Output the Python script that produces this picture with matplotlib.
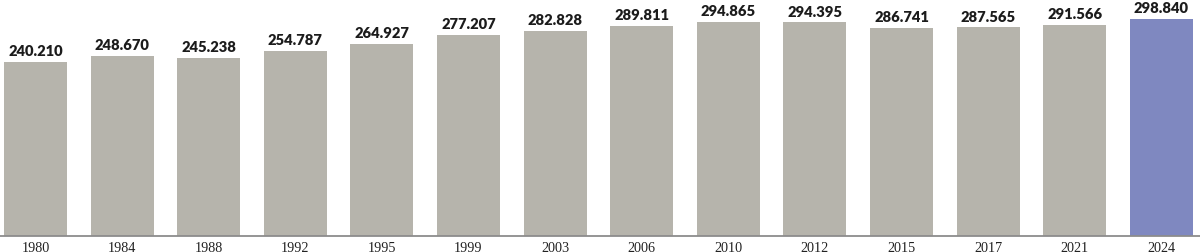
import matplotlib
matplotlib.use("Agg")
import matplotlib.pyplot as plt

# ── Data ──────────────────────────────────────────────────────────────────────
years = ["1980", "1984", "1988", "1992", "1995", "1999", "2003",
         "2006", "2010", "2012", "2015", "2017", "2021", "2024"]
values = [240.210, 248.670, 245.238, 254.787, 264.927, 277.207, 282.828,
          289.811, 294.865, 294.395, 286.741, 287.565, 291.566, 298.840]
labels = ["240.210", "248.670", "245.238", "254.787", "264.927", "277.207",
          "282.828", "289.811", "294.865", "294.395", "286.741", "287.565",
          "291.566", "298.840"]

GREY = "#b6b4ac"
BLUE = "#7f88c0"
colors = [GREY] * (len(years) - 1) + [BLUE]

fig = plt.figure(figsize=(12, 2.53), dpi=100)
fig.patch.set_facecolor("white")
ax = fig.add_axes([0, 0.0644, 1, 0.9356])

x = list(range(len(years)))
bars = ax.bar(x, values, width=0.727, color=colors, zorder=2)

# value labels above each bar
for xi, v, lab in zip(x, values, labels):
    ax.annotate(lab, (xi, v), xytext=(0, 3.5), textcoords="offset points",
                ha="center", va="bottom", fontsize=10.6, fontweight="heavy",
                family="Lato", color="#1c1c1c")

ax.set_xlim(-0.41, 13.447)
ax.set_ylim(0, 326.8)

ax.set_xticks(x)
ax.set_xticklabels(years, family="Liberation Serif", fontsize=10.2,
                   color="#222222")
ax.tick_params(axis="x", length=0, pad=3.5)
ax.set_yticks([])

for s in ["top", "right", "left"]:
    ax.spines[s].set_visible(False)
ax.spines["bottom"].set_color("#8c8c8c")
ax.spines["bottom"].set_linewidth(1.3)
ax.spines["bottom"].set_zorder(3)

fig.savefig("out.png", dpi=100, facecolor="white")
